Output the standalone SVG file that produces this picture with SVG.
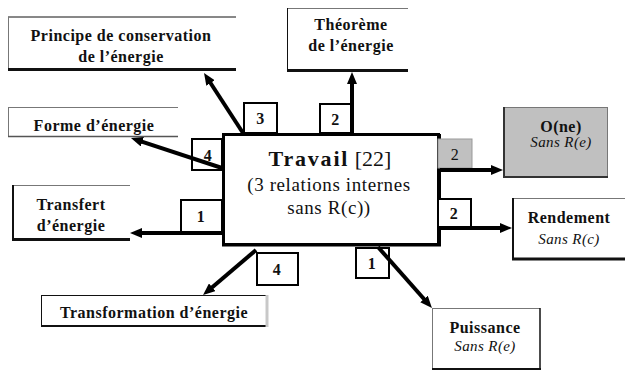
<svg xmlns="http://www.w3.org/2000/svg" width="625" height="372" viewBox="0 0 625 372" font-family="Liberation Serif, Times New Roman, serif">
<defs>
<marker id="ah" markerUnits="userSpaceOnUse" markerWidth="12" markerHeight="10" refX="3" refY="5" orient="auto">
<path d="M0,0 L12,5 L0,10 z" fill="#000"/>
</marker>
<style>
.b{font-weight:bold;font-size:16px;letter-spacing:0.5px;fill:#111;text-anchor:middle}
.i{font-style:italic;font-size:15px;letter-spacing:0.4px;fill:#111;text-anchor:middle}
.r{font-size:19px;letter-spacing:0.6px;fill:#111;text-anchor:middle}
.thin{stroke:#777;stroke-width:1;fill:none}
.dark{stroke:#111;fill:none}
.lbl rect{fill:#fff;stroke:#000;stroke-width:2}
.con line{stroke:#000;stroke-width:4;marker-end:url(#ah)}
</style>
</defs>
<rect width="625" height="372" fill="#fff"/>

<g id="principe">
<rect x="8" y="17" width="228" height="53" fill="#fff"/>
<line x1="8" y1="17" x2="236" y2="17" class="dark" stroke-width="1"/>
<line x1="8.5" y1="17" x2="8.5" y2="70" class="thin"/>
<line x1="8" y1="69.5" x2="236" y2="69.5" class="dark" stroke-width="3"/>
<text class="b" x="121" y="41">Principe de conservation</text>
<text class="b" x="121" y="62">de l’énergie</text>
</g>

<g id="theoreme">
<line x1="287" y1="8.5" x2="408" y2="8.5" class="thin"/>
<line x1="287.5" y1="8" x2="287.5" y2="71" class="dark" stroke-width="1"/>
<line x1="287" y1="70.5" x2="408" y2="70.5" class="dark" stroke-width="3"/>
<text class="b" x="351" y="30">Théorème</text>
<text class="b" x="351" y="51">de l’énergie</text>
</g>

<g id="forme">
<line x1="8" y1="107.5" x2="178" y2="107.5" class="thin"/>
<line x1="8.5" y1="107" x2="8.5" y2="137" class="thin"/>
<line x1="8" y1="136.5" x2="178" y2="136.5" stroke="#555" stroke-width="1.5"/>
<text class="b" x="94" y="131">Forme d’énergie</text>
</g>

<g id="transfert">
<line x1="12" y1="185.5" x2="130" y2="185.5" class="thin"/>
<line x1="13" y1="185" x2="13" y2="241" class="dark" stroke-width="2"/>
<line x1="12" y1="239.5" x2="130" y2="239.5" class="dark" stroke-width="3"/>
<text class="b" x="71" y="210">Transfert</text>
<text class="b" x="71" y="231">d’énergie</text>
</g>

<g id="transformation">
<line x1="41" y1="295.5" x2="268" y2="295.5" class="dark" stroke-width="1"/>
<line x1="41.5" y1="295" x2="41.5" y2="327" class="dark" stroke-width="1"/>
<line x1="41" y1="326" x2="268" y2="326" class="dark" stroke-width="2"/>
<line x1="267" y1="295" x2="267" y2="327" stroke="#c8c8c8" stroke-width="3"/>
<text class="b" x="154" y="318">Transformation d’énergie</text>
</g>

<g id="one">
<rect x="503" y="107" width="105" height="71" fill="#c0c0c0"/>
<line x1="503" y1="107.5" x2="608" y2="107.5" class="thin"/>
<line x1="607.5" y1="107" x2="607.5" y2="178" class="thin"/>
<line x1="504" y1="107" x2="504" y2="178" stroke="#333" stroke-width="2"/>
<line x1="503" y1="177" x2="608" y2="177" stroke="#333" stroke-width="2"/>
<text class="b" x="561" y="132">O(ne)</text>
<text class="i" x="561" y="147">Sans R(e)</text>
</g>

<g id="rendement">
<line x1="512" y1="198.5" x2="625" y2="198.5" class="thin"/>
<line x1="513" y1="198" x2="513" y2="260" class="dark" stroke-width="2"/>
<line x1="512" y1="259" x2="625" y2="259" class="dark" stroke-width="3"/>
<text class="b" x="569" y="223">Rendement</text>
<text class="i" x="569" y="244">Sans R(c)</text>
</g>

<g id="puissance">
<line x1="432" y1="308.5" x2="540" y2="308.5" class="thin"/>
<line x1="432.5" y1="308" x2="432.5" y2="370" class="thin"/>
<line x1="540" y1="308" x2="540" y2="370" class="dark" stroke-width="1.5"/>
<line x1="432" y1="369" x2="541" y2="369" class="dark" stroke-width="2"/>
<text class="b" x="485" y="333">Puissance</text>
<text class="i" x="485" y="351">Sans R(e)</text>
</g>

<g id="travail">
<rect x="223.5" y="134.5" width="215" height="110" fill="#fff" stroke="#000" stroke-width="3"/>
<line x1="440" y1="134" x2="440" y2="246" stroke="#000" stroke-width="2"/>
<line x1="222" y1="245.5" x2="441" y2="245.5" stroke="#000" stroke-width="2"/>
<text class="r" x="330" y="166"><tspan font-weight="bold" font-size="22" letter-spacing="1.8">Travail</tspan><tspan font-size="22" letter-spacing="0">  [22]</tspan></text>
<text class="r" x="329" y="191">(3 relations internes</text>
<text class="r" x="329" y="214">sans R(c))</text>
</g>

<g id="labels" class="lbl">
<g id="l3"><rect x="244" y="103" width="33" height="30"/><text class="b" x="260.5" y="124">3</text></g>
<g id="l2top"><rect x="320" y="104" width="31" height="29"/><text class="b" x="335.5" y="125">2</text></g>
<g id="l4left"><rect x="192" y="139" width="30" height="31"/><text class="b" x="208" y="161">4</text></g>
<g id="l1left"><rect x="181" y="200" width="41" height="33"/><text class="b" x="201" y="222">1</text></g>
<g id="l4bot"><rect x="257" y="253" width="41" height="32"/><text class="b" x="277" y="275">4</text></g>
<g id="l1bot"><rect x="356" y="248" width="33" height="30"/><text class="b" x="372" y="269">1</text></g>
<g id="l2gray"><rect x="438" y="139" width="34" height="29" style="fill:#c0c0c0;stroke:#999;stroke-width:1"/><text class="b" x="455" y="160" style="font-weight:normal">2</text></g>
<g id="l2right"><rect x="438" y="199" width="33" height="28"/><text class="b" x="454" y="219">2</text></g>
</g>

<g id="connectors" class="con">
<line x1="243" y1="133" x2="208.9" y2="80.5"/>
<line x1="352" y1="133" x2="352" y2="81"/>
<line x1="440" y1="170" x2="494" y2="170"/>
<line x1="440" y1="228" x2="503" y2="228"/>
<line x1="378" y1="247" x2="426" y2="301.3"/>
<line x1="256" y1="250" x2="209.9" y2="289.2"/>
<line x1="222" y1="233" x2="139" y2="233"/>
<line x1="222" y1="168" x2="139.5" y2="140.8"/>
</g>
</svg>
